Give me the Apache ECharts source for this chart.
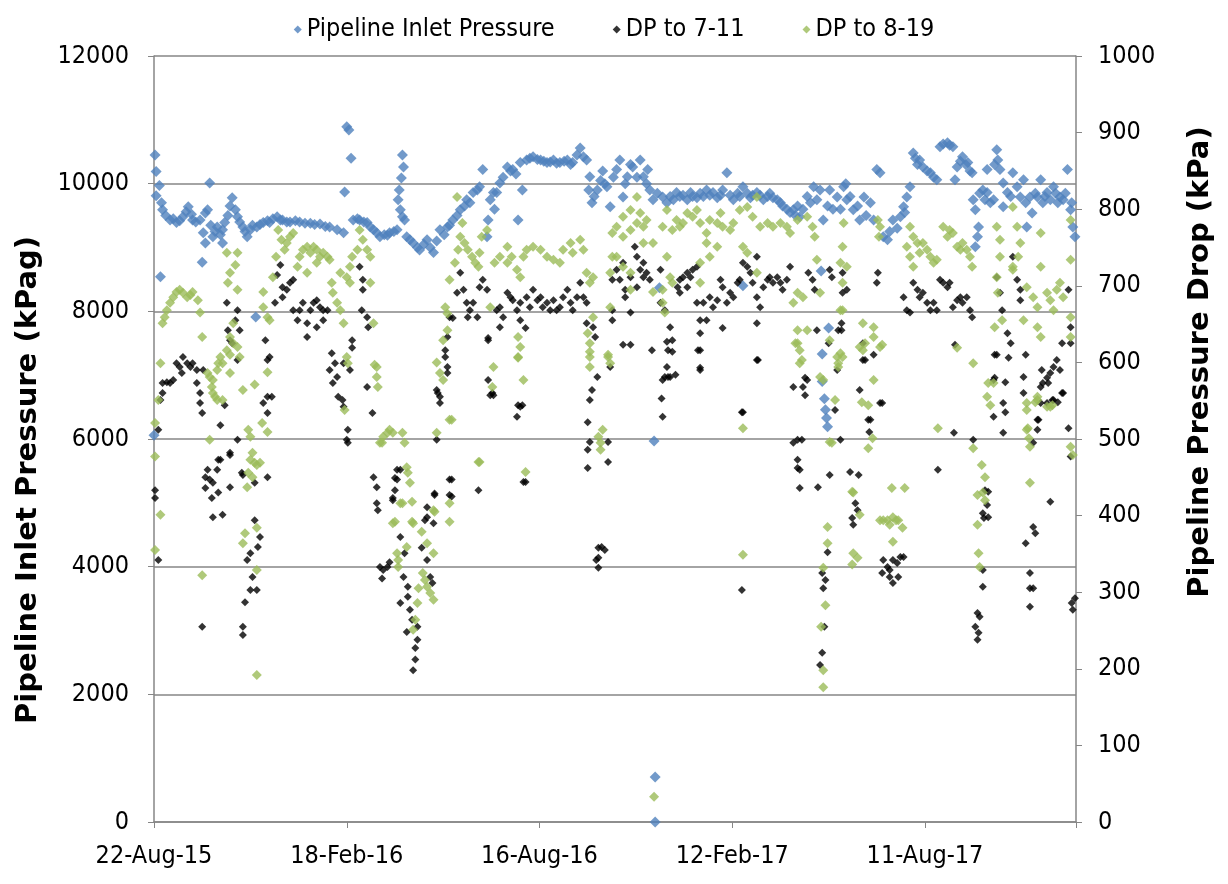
<!DOCTYPE html>
<html><head><meta charset="utf-8">
<script src="https://cdn.jsdelivr.net/npm/echarts@6/dist/echarts.min.js"></script>
<style>html,body{margin:0;padding:0;background:#fff}#c{width:1228px;height:884px}</style>
</head><body><div id="c"></div>
<script>
// x = days since 22-Aug-2015
const startDate = Date.UTC(2015, 7, 22);
const xTickDays = [0, 180, 360, 540, 720];
const leftTicks = [0, 2000, 4000, 6000, 8000, 10000, 12000];
const seriesNames = ['Pipeline Inlet Pressure', 'DP to 7-11', 'DP to 8-19'];
const axisTitles = ['Pipeline Inlet Pressure (kPag)', 'Pipeline Pressure Drop (kPa)'];

// Pipeline Inlet Pressure (kPag) [day, value]
const inletPressure = [[1,10450],[2,10190],[5,9970],[2,9810],[6,8540],[0,6060],[7,9700],[8,9590],[11,9500],[15,9430],[18,9450],[21,9390],[24,9420],[27,9480],[30,9560],[32,9640],[35,9520],[36,9430],[39,9400],[43,9430],[45,8770],[46,9230],[48,9540],[48,9070],[50,9590],[52,10010],[53,9350],[55,9170],[57,9250],[59,9320],[62,9200],[64,9280],[64,9070],[66,9390],[69,9500],[71,9650],[73,9780],[76,9590],[78,9480],[80,9400],[83,9320],[85,9250],[87,9170],[90,9280],[92,9350],[95,7910],[96,9320],[99,9360],[102,9390],[106,9420],[108,9390],[111,9450],[115,9480],[118,9430],[120,9430],[124,9400],[127,9400],[132,9420],[136,9400],[141,9380],[146,9380],[150,9360],[155,9370],[160,9330],[164,9320],[171,9280],[177,9230],[178,9870],[180,10890],[182,10840],[184,10400],[186,9430],[190,9450],[192,9430],[196,9400],[199,9390],[202,9320],[205,9280],[208,9230],[211,9170],[215,9200],[218,9190],[220,9230],[224,9250],[227,9280],[228,9750],[229,9900],[231,10090],[232,10450],[233,10260],[230,9590],[232,9480],[234,9430],[236,9170],[239,9120],[242,9070],[246,9000],[248,8960],[252,9050],[255,9120],[258,9000],[261,8920],[264,9100],[267,9280],[271,9200],[274,9320],[276,9350],[279,9430],[283,9500],[286,9590],[290,9650],[292,9750],[295,9700],[298,9860],[302,9900],[304,9950],[307,10220],[311,9170],[312,9430],[314,9750],[317,9860],[318,9600],[320,9860],[323,10010],[326,10100],[330,10260],[333,10200],[335,10220],[338,10150],[340,9430],[342,10330],[344,9900],[348,10370],[351,10400],[354,10420],[358,10380],[361,10370],[364,10350],[367,10330],[370,10340],[373,10370],[376,10320],[379,10330],[383,10350],[386,10370],[389,10300],[391,10330],[395,10450],[398,10560],[401,10420],[404,10370],[406,9900],[407,10110],[409,9700],[411,9800],[414,9900],[417,10050],[419,10200],[421,10000],[423,9950],[426,9640],[429,10100],[432,10220],[435,10370],[438,9790],[440,10000],[442,10110],[445,10300],[447,10260],[451,10100],[454,10370],[457,10110],[460,10000],[461,10220],[463,9900],[466,9750],[467,5970],[468,705],[468,0],[470,9850],[472,8370],[475,9790],[479,9700],[482,9800],[485,9750],[488,9860],[491,9800],[494,9820],[498,9750],[501,9860],[503,9800],[507,9780],[510,9850],[513,9800],[516,9900],[519,9820],[522,9860],[526,9780],[529,9820],[531,9900],[535,10170],[538,9820],[541,9750],[545,9850],[547,9800],[550,9950],[550,8400],[554,9850],[557,9780],[559,9820],[563,9860],[566,9820],[569,9750],[573,9800],[575,9850],[578,9780],[582,9750],[585,9700],[587,9650],[591,9600],[594,9550],[597,9590],[599,9500],[601,9650],[603,9480],[606,9600],[610,9800],[613,9700],[616,9950],[619,9750],[622,9900],[623,8630],[624,7330],[624,6900],[626,6630],[627,6460],[628,6330],[629,6190],[630,7740],[625,9430],[629,9650],[631,9900],[634,9600],[638,9790],[641,9600],[644,9950],[646,10000],[647,9750],[650,9800],[653,9590],[657,9650],[659,9430],[663,9790],[665,9500],[669,9700],[672,9430],[675,10220],[678,10170],[681,9170],[685,9120],[687,9250],[690,9430],[694,9300],[697,9480],[700,9640],[701,9550],[703,9790],[706,9950],[709,10480],[711,10400],[713,10300],[715,10370],[718,10260],[722,10200],[725,10170],[728,10100],[731,10060],[734,10580],[737,10620],[741,10640],[743,10600],[746,10580],[748,10060],[750,10260],[753,10350],[755,10420],[758,10300],[760,10330],[762,10200],[764,10170],[765,9750],[767,9590],[767,9010],[769,9170],[770,9320],[771,9850],[774,9900],[776,9750],[778,10220],[778,9860],[781,9700],[784,9750],[785,10300],[787,10530],[788,10370],[790,10220],[793,10010],[793,9640],[797,9860],[800,9800],[802,10170],[806,9950],[809,9790],[812,10060],[814,9700],[815,9320],[818,9790],[820,9540],[823,9850],[825,9790],[828,10060],[830,9700],[832,9800],[834,9860],[837,9750],[840,9950],[842,9850],[844,9700],[846,9790],[849,9750],[851,9850],[853,10220],[856,9590],[857,9700],[858,9320],[860,9170]];

// DP to 7-11 (kPa) [day, value]
const dp711 = [[4,512],[1,433],[1,423],[6,551],[8,560],[8,573],[12,574],[15,573],[18,577],[21,599],[24,594],[27,607],[31,599],[34,594],[36,599],[40,590],[46,590],[26,586],[40,573],[43,560],[43,547],[45,534],[48,450],[50,460],[52,447],[55,443],[59,460],[62,473],[60,430],[54,423],[55,398],[64,401],[48,436],[62,518],[66,544],[68,678],[69,642],[71,629],[73,625],[76,655],[78,668],[80,642],[78,603],[71,482],[78,499],[71,437],[82,456],[94,394],[104,629],[106,603],[108,607],[106,555],[110,555],[106,534],[102,547],[106,450],[115,714],[118,727],[120,698],[120,685],[124,695],[127,704],[130,708],[113,678],[130,668],[134,655],[136,668],[139,678],[143,651],[146,668],[149,678],[152,681],[155,672],[158,668],[162,668],[143,633],[152,646],[158,655],[166,612],[164,590],[169,599],[167,573],[171,581],[172,555],[176,551],[177,542],[177,599],[183,590],[185,629],[185,619],[181,512],[180,499],[181,495],[192,725],[195,708],[194,668],[195,695],[199,659],[200,646],[204,534],[205,450],[208,437],[208,416],[209,407],
[4,342],[45,255],[60,473],[71,479],[83,453],[94,443],[99,372],[97,359],[90,351],[87,342],[92,320],[90,303],[96,303],[85,287],[83,255],[83,244],[199,568],[211,333],[214,329],[218,333],[220,339],[213,318],[227,460],[227,447],[225,433],[230,460],[223,420],[230,372],[234,351],[233,320],[237,307],[230,286],[237,294],[239,277],[241,264],[236,248],[246,255],[246,238],[244,227],[244,212],[242,198],[255,411],[253,394],[261,390],[250,358],[255,342],[258,320],[260,312],[262,429],[276,447],[276,427],[272,616],[272,607],[264,564],[267,555],[264,499],
[286,717],[283,691],[289,695],[292,678],[295,668],[298,678],[302,659],[304,698],[307,708],[311,695],[293,659],[279,658],[320,668],[323,672],[326,659],[330,691],[333,685],[335,681],[339,668],[342,678],[348,685],[351,672],[354,695],[358,681],[361,685],[363,672],[367,678],[370,668],[373,681],[376,668],[379,672],[382,685],[386,695],[389,678],[391,668],[395,685],[398,704],[401,685],[404,678],[323,646],[312,632],[342,655],[347,645],[276,659],[274,633],[274,594],[274,586],[265,560],[267,547],[278,447],[278,425],[262,427],[255,398],[225,449],[223,423],[303,433],[314,557],[312,577],[340,544],[342,542],[339,529],[345,444],[404,651],[410,646],[412,633],[414,581],[409,564],[407,551],[405,522],[407,496],[405,486],[405,462],[424,470],[424,496],[426,594],[428,708],
[438,623],[465,616],[479,627],[484,614],[479,594],[475,577],[480,581],[487,584],[474,553],[475,529],[510,616],[510,590],[563,603],[549,535],[549,303],[415,358],[418,359],[421,355],[415,345],[413,342],[415,332],[316,560],[317,557],[344,544],[347,444],[312,629],
[432,721],[435,708],[438,730],[440,695],[445,711],[449,751],[451,738],[454,721],[457,730],[460,717],[463,708],[451,698],[457,711],[440,685],[445,665],[428,668],[428,655],[445,623],[473,721],[473,678],[477,668],[482,646],[484,629],[480,616],[477,581],[482,581],[489,698],[491,708],[494,711],[498,717],[501,711],[503,721],[507,725],[491,691],[498,698],[507,678],[510,655],[513,678],[516,655],[510,638],[508,616],[510,593],[519,685],[522,672],[526,681],[529,708],[531,698],[535,678],[538,691],[541,685],[545,704],[547,708],[550,730],[554,725],[557,717],[559,704],[563,738],[563,685],[566,672],[569,698],[573,708],[575,711],[578,704],[582,711],[585,704],[587,695],[591,708],[594,725],[531,645],[563,651],[550,535],[611,717],[615,708],[617,695],[619,642],[631,721],[633,711],[639,642],[638,590],[597,568],[606,568],[610,577],[608,557],[597,495],[601,499],[605,499],[601,473],[601,462],[603,460],[603,436],[620,437],[631,453],[641,499],
[564,603],[608,580],[636,538],[630,625],[629,352],[624,325],[627,316],[625,305],[626,255],[624,221],[622,205],[659,564],[667,525],[668,509],[662,625],[664,603],[672,610],[680,547],[650,457],[658,453],[655,416],[657,407],[652,397],[653,388],[681,342],[685,333],[687,329],[690,342],[694,338],[697,346],[700,346],[687,320],[690,312],[695,320],[680,325],[732,460],[747,508],[748,623],[765,499],[779,431],[778,414],[779,398],[774,329],[774,307],[769,273],[771,268],[767,255],[770,247],[769,238],[785,610],[798,606],[795,574],[784,577],[793,547],[795,535],[784,529],[793,508],[814,610],[812,581],[812,560],[814,364],[821,385],[823,377],[818,325],[818,305],[821,305],[818,281],[837,418],[825,525],[825,512],[829,590],[830,573],[834,580],[835,573],[837,586],[840,594],[843,603],[846,590],[849,560],[839,551],[834,547],[844,548],[848,625],[854,514],[856,477],[857,286],[858,277],[860,292],
[643,717],[647,695],[643,691],[676,717],[675,704],[642,651],[642,642],[662,603],[678,547],[669,525],[700,685],[703,668],[706,665],[709,704],[713,695],[715,685],[718,691],[722,678],[725,668],[728,678],[731,668],[734,708],[737,704],[741,698],[743,704],[746,672],[750,681],[753,685],[755,678],[759,685],[762,668],[764,659],[787,711],[790,691],[792,668],[802,738],[806,708],[809,695],[809,681],[797,638],[800,625],[787,610],[828,568],[848,560],[854,695],[856,646],[856,625],[821,495],[826,525],[828,547],[840,551],[785,580],[776,433],[774,403],[775,397]];

// DP to 8-19 (kPa) [day, value]
const dp819 = [[6,599],[4,551],[1,521],[1,477],[6,401],[8,651],[10,659],[12,668],[15,678],[18,685],[21,692],[24,695],[27,691],[31,685],[34,688],[36,692],[41,681],[43,665],[45,633],[50,586],[52,581],[54,568],[57,555],[62,607],[64,599],[68,616],[68,743],[71,717],[69,704],[76,727],[78,743],[78,695],[74,651],[71,633],[74,625],[78,620],[80,607],[83,564],[88,512],[92,482],[94,469],[99,469],[92,450],[87,437],[52,499],[106,509],[101,521],[102,672],[102,692],[106,659],[108,655],[111,711],[114,738],[116,773],[119,760],[122,747],[124,756],[127,764],[130,769],[134,725],[136,738],[139,747],[143,751],[146,743],[149,751],[152,747],[155,738],[158,743],[162,738],[164,734],[152,730],[143,717],[166,704],[167,691],[171,678],[174,668],[177,651],[174,717],[180,711],[183,725],[185,738],[190,747],[192,773],[195,760],[199,747],[202,738],[205,651],[208,594],[208,581],[209,568],[211,495],[214,503],[181,599],[183,704],[202,704],
[1,355],[45,322],[55,577],[59,590],[60,599],[71,610],[55,560],[59,551],[64,551],[71,586],[94,571],[90,503],[90,473],[96,466],[88,456],[85,377],[83,364],[96,384],[96,329],[96,192],[106,587],[180,607],[178,538],[206,597],[218,508],[220,512],[232,508],[236,463],[237,456],[232,416],[241,392],[225,392],[227,351],[228,342],[228,333],[236,359],[250,379],[255,364],[261,351],[251,325],[253,316],[255,307],[258,299],[261,290],[247,305],[246,286],[244,264],[242,251],[262,405],[276,416],[276,392],[264,508],[264,600],[267,586],[270,577],[276,525],[270,629],
[223,508],[234,495],[213,495],[239,443],[241,418],[230,416],[223,390],[242,390],[261,407],[274,642],[274,664],[272,672],[276,708],[281,730],[284,747],[286,764],[283,816],[288,782],[290,756],[293,747],[297,738],[300,730],[303,725],[306,764],[311,773],[304,743],[314,672],[317,594],[316,568],[304,470],[318,730],[323,738],[330,730],[330,751],[334,738],[339,721],[342,711],[340,633],[342,620],[340,607],[345,577],[347,457],[345,738],[348,747],[354,751],[361,747],[367,738],[373,734],[379,730],[382,747],[389,756],[391,743],[398,760],[401,747],[404,717],[410,711],[407,704],[410,659],[407,625],[407,607],[407,594],[405,638],[424,607],[426,599],[415,503],[419,512],[417,495],[417,486],[428,769],[428,738],[426,717],[426,672],
[278,525],[303,470],[340,606],[407,614],[424,610],[550,514],[550,349],[467,33],
[438,790],[432,777],[445,799],[451,816],[454,795],[457,777],[460,786],[438,764],[445,773],[451,782],[432,738],[438,725],[445,717],[457,756],[466,756],[475,777],[479,799],[484,773],[488,786],[491,777],[494,782],[498,795],[503,790],[507,799],[510,782],[516,769],[519,786],[526,782],[529,795],[531,777],[538,773],[541,782],[547,799],[554,803],[559,790],[563,816],[566,777],[573,782],[578,777],[585,782],[591,777],[594,769],[601,786],[610,790],[615,777],[617,764],[479,738],[482,711],[475,695],[484,704],[475,678],[477,665],[466,692],[445,695],[510,730],[516,756],[526,751],[510,704],[519,738],[550,751],[554,743],[563,717],[597,678],[601,691],[606,685],[619,734],[622,691],[601,642],[599,625],[603,616],[605,603],[610,642],[622,581],[625,577],[631,629],[638,607],[639,594],[641,668],[636,551],[631,496],[629,385],[641,730],
[629,364],[625,332],[627,283],[623,255],[625,198],[625,176],[633,495],[641,612],[639,599],[603,599],[601,625],[653,430],[659,401],[653,351],[657,345],[652,336],[659,620],[662,616],[672,577],[661,548],[667,544],[671,501],[667,488],[680,623],[681,394],[685,394],[690,398],[695,394],[699,384],[687,388],[690,366],[701,436],[732,514],[750,619],[765,599],[765,488],[773,466],[776,450],[769,427],[774,430],[769,388],[770,351],[771,333],[779,573],[778,555],[781,544],[816,514],[817,501],[818,490],[818,443],[823,548],[825,555],[839,544],[856,490],[858,479],
[644,782],[643,751],[647,725],[643,704],[643,668],[643,607],[662,651],[672,646],[664,625],[672,633],[678,620],[676,786],[678,777],[677,764],[706,777],[709,764],[713,756],[703,751],[706,738],[709,725],[718,756],[722,747],[715,743],[725,738],[728,730],[731,734],[737,777],[743,773],[741,764],[746,769],[750,751],[753,747],[755,756],[759,747],[762,738],[764,725],[787,777],[790,760],[790,738],[787,711],[788,691],[792,655],[785,646],[784,573],[802,725],[802,721],[802,803],[806,777],[809,756],[807,738],[812,655],[815,698],[821,685],[828,725],[828,769],[825,672],[834,691],[837,681],[840,668],[846,704],[843,695],[849,685],[856,734],[856,786],[856,659],[856,633],[815,512],[815,547],[825,551],[815,538],[834,542],[837,542],[825,646],[828,633],[689,436],[678,394],[693,394],[652,431],[776,420]];

const MONTHS = ['Jan','Feb','Mar','Apr','May','Jun','Jul','Aug','Sep','Oct','Nov','Dec'];
function dayLabel(d) {
  const dt = new Date(startDate + d * 86400000);
  return dt.getUTCDate() + '-' + MONTHS[dt.getUTCMonth()] + '-' + String(dt.getUTCFullYear()).slice(2);
}

const FONT = "'Liberation Sans Narrow', 'DejaVu Sans Condensed', 'Open Sans', sans-serif";
const TITLE_FONT = "'DejaVu Sans', 'Open Sans', sans-serif";
const chart = echarts.init(document.getElementById('c'), null, {renderer: 'canvas'});
const axisLine = {show: true, lineStyle: {color: '#868686', width: 1.5}};
chart.setOption({
  animation: false,
  backgroundColor: '#fff',
  textStyle: {fontFamily: FONT},
  legend: {
    top: 12, left: 'center', itemGap: 58, itemWidth: 8, itemHeight: 8,
    textStyle: {fontFamily: FONT, fontSize: 25, color: '#000'},
    data: seriesNames.map(n => ({name: n, icon: 'diamond'}))
  },
  grid: {left: 154, right: 152, top: 56, bottom: 62, containLabel: false},
  graphic: [{
    type: 'text', x: 28, y: 480, rotation: Math.PI / 2,
    style: {text: axisTitles[0], font: "bold 29px " + TITLE_FONT, fill: '#000', align: 'center', verticalAlign: 'middle'}
  }, {
    type: 'text', x: 1200, y: 362, rotation: Math.PI / 2,
    style: {text: axisTitles[1], font: "bold 29px " + TITLE_FONT, fill: '#000', align: 'center', verticalAlign: 'middle'}
  }],
  xAxis: {
    type: 'value', min: 0, max: 861, interval: 180,
    axisLine: axisLine,
    axisTick: {show: true, length: 6, lineStyle: {color: '#868686'}},
    splitLine: {show: false},
    axisLabel: {fontFamily: FONT, fontSize: 25, color: '#000', margin: 22,
      formatter: v => xTickDays.includes(v) ? dayLabel(v) : ''}
  },
  yAxis: [{
    type: 'value', min: leftTicks[0], max: leftTicks[leftTicks.length - 1], interval: 2000, position: 'left',
    axisLine: axisLine,
    axisTick: {show: true, length: 6, lineStyle: {color: '#868686'}},
    splitLine: {show: true, lineStyle: {color: '#868686', width: 1.5}},
    axisLabel: {fontFamily: FONT, fontSize: 25, color: '#000', margin: 25, formatter: v => String(v)}
  }, {
    type: 'value', min: 0, max: 1000, interval: 100, position: 'right',
    axisLine: axisLine,
    axisTick: {show: true, length: 6, lineStyle: {color: '#868686'}},
    splitLine: {show: false},
    axisLabel: {fontFamily: FONT, fontSize: 25, color: '#000', margin: 22, formatter: v => String(v)}
  }],
  series: [{
    name: seriesNames[0], type: 'scatter', yAxisIndex: 0, symbol: 'diamond', symbolSize: 11,
    itemStyle: {color: '#4F81BD'}, data: inletPressure
  }, {
    name: seriesNames[1], type: 'scatter', yAxisIndex: 1, symbol: 'diamond', symbolSize: 8,
    itemStyle: {color: '#000000'}, data: dp711
  }, {
    name: seriesNames[2], type: 'scatter', yAxisIndex: 1, symbol: 'diamond', symbolSize: 10,
    itemStyle: {color: '#9BBB59'}, data: dp819
  }]
});
</script>
</body></html>
